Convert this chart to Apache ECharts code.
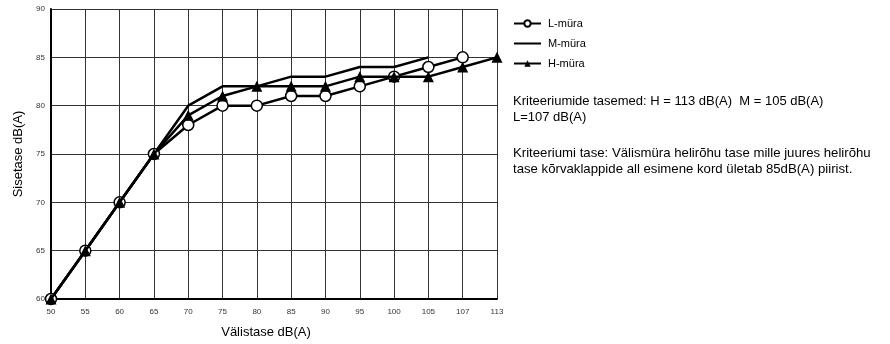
<!DOCTYPE html>
<html>
<head>
<meta charset="utf-8">
<script src="https://cdn.jsdelivr.net/npm/echarts@6/dist/echarts.min.js"></script>
<style>
html,body{margin:0;padding:0;background:#fff;}
#c{width:890px;height:344px;}
</style>
</head>
<body>
<div id="c"></div>
<script>
const categories = ['50','55','60','65','70','75','80','85','90','95','100','105','107','113'];
const lMura = [60,65,70,75,78,80,80,81,81,82,83,84,85,null];
const mMura = [60,65,70,75,80,82,82,83,83,84,84,85,null,null];
const hMura = [60,65,70,75,79,81,82,82,82,83,83,83,84,85];
const yTicks = {min:60, max:90, step:5};
const seriesNames = ['L-müra','M-müra','H-müra'];
const noteLines = [
  'Kriteeriumide tasemed: H = 113 dB(A)  M = 105 dB(A)',
  'L=107 dB(A)',
  'Kriteeriumi tase: Välismüra helirõhu tase mille juures helirõhu',
  'tase kõrvaklappide all esimene kord ületab 85dB(A) piirist.'
];

const FONT = '"Liberation Sans", Arial, sans-serif';
const chart = echarts.init(document.getElementById('c'), null, {renderer:'canvas'});
const lineStyle = {color:'#000', width:2.5};
chart.setOption({
  animation:false,
  backgroundColor:'#fff',
  grid:{left:51, right:393, top:9, bottom:41, containLabel:false},
  xAxis:{
    type:'category', data:categories, boundaryGap:false,
    name:'Välistase dB(A)', nameLocation:'middle', nameGap:27,
    nameTextStyle:{fontFamily:FONT, fontSize:13, color:'#000', padding:[0,16,0,0]},
    axisLine:{lineStyle:{color:'#000', width:2}},
    axisTick:{show:false},
    axisLabel:{fontFamily:FONT, fontSize:8, color:'#333', margin:9},
    splitLine:{show:true, lineStyle:{color:'#333', width:1}}
  },
  yAxis:{
    type:'value', min:yTicks.min, max:yTicks.max, interval:yTicks.step,
    name:'Sisetase dB(A)', nameLocation:'middle', nameGap:26, nameRotate:90,
    nameTextStyle:{fontFamily:FONT, fontSize:13, color:'#000'},
    axisLine:{show:true, lineStyle:{color:'#000', width:2}},
    axisTick:{show:false},
    axisLabel:{fontFamily:FONT, fontSize:8, color:'#333', margin:6},
    splitLine:{show:true, lineStyle:{color:'#333', width:1}}
  },
  legend:{
    orient:'vertical', left:508, top:13, itemWidth:27, itemHeight:8, itemGap:9, padding:5,
    data:[
      {name:seriesNames[0]},
      {name:seriesNames[1], itemStyle:{opacity:0}},
      {name:seriesNames[2]}
    ],
    textStyle:{fontFamily:FONT, fontSize:11, color:'#000', padding:[0,0,0,2]}
  },
  series:[
    {name:seriesNames[0], type:'line', data:lMura, symbol:'circle', symbolSize:11,
     itemStyle:{color:'#fff', borderColor:'#000', borderWidth:1.5}, lineStyle:lineStyle, z:3},
    {name:seriesNames[1], type:'line', data:mMura, symbol:'none',
     itemStyle:{color:'#000'}, lineStyle:lineStyle, z:2},
    {name:seriesNames[2], type:'line', data:hMura, symbol:'triangle', symbolSize:11,
     itemStyle:{color:'#000'}, lineStyle:lineStyle, z:4}
  ],
  graphic:[
    {type:'text', left:513, top:95, style:{text:noteLines[0], font:'13px '+FONT, fill:'#000'}},
    {type:'text', left:513, top:111, style:{text:noteLines[1], font:'13px '+FONT, fill:'#000'}},
    {type:'text', left:513, top:147, style:{text:noteLines[2], font:'13.2px '+FONT, fill:'#000'}},
    {type:'text', left:513, top:163, style:{text:noteLines[3], font:'13.2px '+FONT, fill:'#000'}}
  ]
});
</script>
</body>
</html>
